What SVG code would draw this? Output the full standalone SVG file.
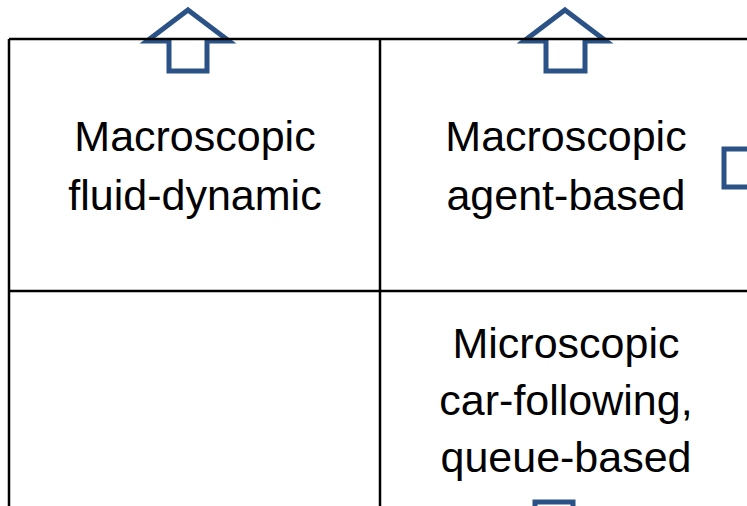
<svg xmlns="http://www.w3.org/2000/svg" width="747" height="506" viewBox="0 0 747 506">
<style>
.grid{stroke:#000;stroke-width:2.5;fill:none}
.arrow{fill:#fff;stroke:#2B5286;stroke-width:5;stroke-linejoin:miter}
.t{font-family:"Liberation Sans",Arial,sans-serif;font-size:43px;fill:#000;text-anchor:middle}
</style>
<rect width="747" height="506" fill="#fff"/>
<g id="connectors">
<g id="arrow-up-left"><path class="arrow" d="M188,10 L229,41 L207,41 L207,71 L169,71 L169,41 L147,41 Z"/></g>
<g id="arrow-up-right"><path class="arrow" d="M565,10 L606,41 L585,41 L585,71 L546,71 L546,41 L524,41 Z"/></g>
<g id="arrow-right"><path class="arrow" d="M724,149 L760,149 L760,187 L724,187 Z"/></g>
<g id="arrow-down"><path class="arrow" d="M535,502 L573,502 L573,520 L535,520 Z"/></g>
</g>
<g id="grid">
<path class="grid" d="M9,39 L747,39 M9,39 L9,506 M380,39 L380,506 M9,291 L747,291"/>
</g>
<g id="cell-macro-fluid"><text class="t" x="195" y="151">Macroscopic</text><text class="t" x="195" y="210">fluid-dynamic</text></g>
<g id="cell-macro-agent"><text class="t" x="566" y="151">Macroscopic</text><text class="t" x="566" y="210">agent-based</text></g>
<g id="cell-micro"><text class="t" x="566" y="358">Microscopic</text><text class="t" x="566" y="415">car-following,</text><text class="t" x="566" y="472">queue-based</text></g>
</svg>
